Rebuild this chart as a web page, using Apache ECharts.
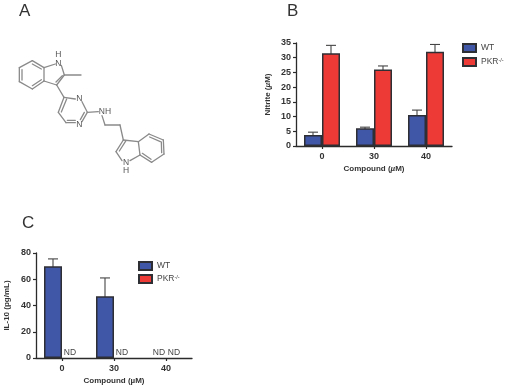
<!DOCTYPE html>
<html>
<head>
<meta charset="utf-8">
<style>html,body{margin:0;padding:0;background:#fff}#c{width:507px;height:388px}</style>
<script src="https://cdn.jsdelivr.net/npm/echarts@6/dist/echarts.min.js"></script>
</head>
<body>
<div id="c"></div>
<script>
const categories = ['0', '30', '40'];
const nitriteWT = [3.7, 6, 10.5];
const nitriteWTTop = [4.7, 6.4, 12.2];
const nitritePKR = [31.5, 26, 32];
const nitritePKRTop = [34.2, 27.2, 34.5];
const il10WT = [70, 47, 0];
const il10WTTop = [75.5, 61, 0];
const il10PKR = [0, 0, 0];
const WT = 'WT';
const PKR = 'PKR';

// Structure drawing of panel A, in its own hidden 540x570 coordinate system
const bonds = [
  [58,203,97,182],[97,182,132,203],[132,203,132,243],[132,243,97,267],[97,267,58,245],[58,245,58,203],
  [66,209,66,240],[97,192,124,207],[97,257,124,239],
  [132,203,166,192],[184,196,193,225],[193,225,170,255],[170,255,132,243],[187,227,168,246],[193,225,243,225],
  [170,255,192,292],
  [192,292,226,297],[192,292,175,337],[200,297,184,336],[246,305,262,337],[262,337,246,365],[253,337,241,359],
  [175,337,198,368],[198,368,226,368],[202,361,226,361],[262,337,295,335],
  [306,347,315,375],[315,375,360,375],[360,375,370,420],
  [370,420,348,455],[378,422,358,453],[348,455,366,482],[390,482,420,465],[420,465,415,425],[415,425,370,420],
  [415,425,447,402],[447,402,490,420],[490,420,492,462],[492,462,455,487],[455,487,420,465],
  [449,411,481,425],[484,426,485,458],[453,478,427,460]
];
const atoms = [
  ['N',175,190],['H',175,163],['N',238,297],['N',238,375],['NH',315,335],['N',378,487],['H',378,512]
];

const AXIS = '#2b2b2b';
const FONT = '"Liberation Sans", Arial, sans-serif';

function errorSeries(name, xi, yi, tops, offset) {
  return {
    name: name, type: 'custom', xAxisIndex: xi, yAxisIndex: yi, silent: true, z: 1,
    data: categories.map((c, i) => [i, tops[i]]),
    renderItem(params, api) {
      const v = api.value(1);
      if (!v) return null;
      const base = api.coord([api.value(0), 0]);
      const top = api.coord([api.value(0), v]);
      const x = base[0] + offset;
      const style = { stroke: '#444', lineWidth: 1.1, fill: null };
      return { type: 'group', children: [
        { type: 'line', shape: { x1: x, y1: base[1], x2: x, y2: top[1] }, style },
        { type: 'line', shape: { x1: x - 5, y1: top[1], x2: x + 5, y2: top[1] }, style }
      ]};
    }
  };
}
function bar(name, xi, yi, data, color, nd, ndShift) {
  return {
    name: name, type: 'bar', xAxisIndex: xi, yAxisIndex: yi, barWidth: 18, barGap: 0, z: 2,
    data: data.map(v => ({ value: v, itemStyle: { borderWidth: v ? 1.5 : 0 } })),
    itemStyle: { color: color, borderColor: '#2e2e35', borderWidth: 1.5 },
    label: nd ? {
      show: true, position: 'top', distance: 1, offset: [ndShift, 0], color: '#444', fontFamily: FONT, fontSize: 8.5,
      formatter: p => p.value === 0 ? 'ND' : ''
    } : { show: false }
  };
}
function grid(left, top, width, height) { return { left, top, width, height, containLabel: false }; }
function catAxis(gi, name) {
  return {
    type: 'category', gridIndex: gi, data: categories,
    name: name, nameLocation: 'middle', nameGap: 19,
    nameTextStyle: {
      fontFamily: FONT, fontWeight: 'bold', fontSize: 8, color: '#333',
      rich: { i: { fontStyle: 'italic', fontWeight: 'bold', fontSize: 8, fontFamily: FONT, color: '#333' } }
    },
    axisLine: { show: true, lineStyle: { color: AXIS, width: 1.3 } },
    axisTick: { show: true, alignWithLabel: true, length: 3, lineStyle: { color: AXIS, width: 1.2 } },
    axisLabel: { fontFamily: FONT, fontWeight: 'bold', fontSize: 9, color: '#333', margin: 6 },
    splitLine: { show: false }
  };
}
function valAxis(gi, name, max, interval, gap) {
  return {
    type: 'value', gridIndex: gi, min: 0, max, interval,
    name: name, nameLocation: 'middle', nameGap: gap, nameRotate: 90,
    nameTextStyle: {
      fontFamily: FONT, fontWeight: 'bold', fontSize: 8, color: '#333',
      rich: { i: { fontStyle: 'italic', fontWeight: 'bold', fontSize: 8, fontFamily: FONT, color: '#333' } }
    },
    axisLine: { show: true, lineStyle: { color: AXIS, width: 1.3 } },
    axisTick: { show: true, length: 3, lineStyle: { color: AXIS, width: 1.2 } },
    axisLabel: { fontFamily: FONT, fontWeight: 'bold', fontSize: 9, color: '#333', margin: 5 },
    splitLine: { show: false }
  };
}
function legend(left, top, gap) {
  return {
    left, top, orient: 'vertical', selectedMode: false, icon: 'rect', itemWidth: 13, itemHeight: 8, itemGap: gap,
    data: [WT, PKR], padding: 0,
    formatter: n => n === PKR ? '{t|PKR}{s|-/-}' : '{t|WT}',
    textStyle: {
      padding: 0,
      rich: {
        t: { fontFamily: FONT, fontSize: 8.5, color: '#444' },
        s: { fontFamily: FONT, fontSize: 5.5, color: '#444', verticalAlign: 'top', padding: [0, 0, 3, 0] }
      }
    }
  };
}
function panel(text, x, y) {
  return { text, left: x, top: y, padding: 0, textStyle: { fontFamily: FONT, fontWeight: 'normal', fontSize: 17, color: '#333' } };
}

const chart = echarts.init(document.getElementById('c'), null, { renderer: 'canvas' });
chart.setOption({
  animation: false,
  backgroundColor: '#fff',
  title: [panel('A', 19, 3), panel('B', 287, 3), panel('C', 22, 215)],
  legend: [legend(462, 43, 4), legend(138, 261, 3)],
  grid: [grid(296, 43, 156, 103), grid(36, 253, 156, 105), grid(0, 0, 180, 190)],
  xAxis: [
    catAxis(0, 'Compound ({i|µ}M)'),
    catAxis(1, 'Compound (µM)'),
    { type: 'value', gridIndex: 2, min: 0, max: 540, show: false }
  ],
  yAxis: [
    valAxis(0, 'Nitrite ({i|µ}M)', 35, 5, 24),
    valAxis(1, 'IL-10 (pg/mL)', 80, 20, 25),
    { type: 'value', gridIndex: 2, min: 0, max: 570, inverse: true, show: false }
  ],
  series: [
    errorSeries('WT error', 0, 0, nitriteWTTop, -9),
    errorSeries('PKR error', 0, 0, nitritePKRTop, 9),
    bar(WT, 0, 0, nitriteWT, '#3f57a6', false, 0),
    bar(PKR, 0, 0, nitritePKR, '#ee3a36', false, 0),
    errorSeries('WT error C', 1, 1, il10WTTop, -9),
    bar(WT, 1, 1, il10WT, '#3f57a6', true, 2),
    bar(PKR, 1, 1, il10PKR, '#ee3a36', true, -1),
    {
      name: 'bonds', type: 'custom', xAxisIndex: 2, yAxisIndex: 2, silent: true, data: bonds,
      encode: { x: [0, 2], y: [1, 3] },
      renderItem(params, api) {
        const a = api.coord([api.value(0), api.value(1)]);
        const b = api.coord([api.value(2), api.value(3)]);
        return { type: 'line', shape: { x1: a[0], y1: a[1], x2: b[0], y2: b[1] },
                 style: { stroke: '#8a8a8a', lineWidth: 1.3, lineCap: 'round', fill: null } };
      }
    },
    {
      name: 'atoms', type: 'custom', xAxisIndex: 2, yAxisIndex: 2, silent: true,
      data: atoms.map(a => [a[1], a[2]]),
      renderItem(params, api) {
        const p = api.coord([api.value(0), api.value(1)]);
        return { type: 'text', x: p[0], y: p[1],
                 style: { text: atoms[params.dataIndex][0], fill: '#555', fontFamily: FONT, fontSize: 8.5, align: 'center', verticalAlign: 'middle' } };
      }
    }
  ]
});
</script>
</body>
</html>
